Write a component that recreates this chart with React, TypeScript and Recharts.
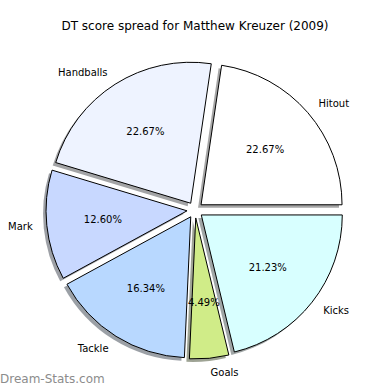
import { PieChart, Pie, Sector } from "recharts";

const categories = ["Hitout", "Handballs", "Mark", "Tackle", "Goals", "Kicks"];
const shares = [22.67, 22.67, 12.6, 16.34, 4.49, 21.23];
const colors = ["#ffffff", "#eef3ff", "#c8d8ff", "#b8d8ff", "#d0ec88", "#d8ffff"];

const data = categories.map((name, i) => ({ name, value: shares[i], fill: colors[i] }));

const RAD = Math.PI / 180;
const EXPLODE = 8;
const FONT = "DejaVu Sans, sans-serif";

const darken = (hex: string) => {
  const n = parseInt(hex.slice(1), 16);
  const r = Math.round(((n >> 16) & 255) * 0.3);
  const g = Math.round(((n >> 8) & 255) * 0.3);
  const b = Math.round((n & 255) * 0.3);
  return `rgb(${r},${g},${b})`;
};

const renderSlice = (props: any) => {
  const { cx, cy, midAngle, outerRadius, startAngle, endAngle, fill } = props;
  const dx = EXPLODE * Math.cos(-midAngle * RAD);
  const dy = EXPLODE * Math.sin(-midAngle * RAD);
  return (
    <g>
      <Sector
        cx={cx + dx - 3}
        cy={cy + dy + 3}
        innerRadius={0}
        outerRadius={outerRadius}
        startAngle={startAngle}
        endAngle={endAngle}
        fill={darken(fill)}
        fillOpacity={0.5}
        stroke="none"
      />
      <Sector
        cx={cx + dx}
        cy={cy + dy}
        innerRadius={0}
        outerRadius={outerRadius}
        startAngle={startAngle}
        endAngle={endAngle}
        fill={fill}
        stroke="#000"
        strokeWidth={1}
      />
    </g>
  );
};

const renderLabel = (props: any) => {
  const { cx, cy, midAngle, outerRadius, name, value } = props;
  const cos = Math.cos(-midAngle * RAD);
  const sin = Math.sin(-midAngle * RAD);
  const ox = cx + EXPLODE * cos;
  const oy = cy + EXPLODE * sin;
  const lx = ox + outerRadius * 1.1 * cos;
  const ly = oy + outerRadius * 1.1 * sin;
  const px = ox + outerRadius * 0.6 * cos;
  const py = oy + outerRadius * 0.6 * sin;
  return (
    <g>
      <text x={lx} y={ly} textAnchor={cos >= 0 ? "start" : "end"} dominantBaseline="central" fontSize={10} fontFamily={FONT} fill="#000">
        {name}
      </text>
      <text x={px} y={py} textAnchor="middle" dominantBaseline="central" fontSize={10} fontFamily={FONT} fill="#000">
        {value.toFixed(2)}%
      </text>
    </g>
  );
};

export default function App() {
  return (
    <div style={{ position: "absolute", left: 0, top: 0, width: 390, height: 390, background: "#fff" }}>
      <div style={{ position: "absolute", top: 19, left: 0, width: 390, textAlign: "center", fontFamily: FONT, fontSize: 12, color: "#000" }}>
        DT score spread for Matthew Kreuzer (2009)
      </div>
      <PieChart width={390} height={390} margin={{ top: 0, right: 0, bottom: 0, left: 0 }}>
        <Pie
          data={data}
          dataKey="value"
          nameKey="name"
          cx={195}
          cy={210}
          outerRadius={141}
          startAngle={0}
          endAngle={360}
          shape={renderSlice}
          label={renderLabel}
          labelLine={false}
          isAnimationActive={false}
        />
      </PieChart>
      <div style={{ position: "absolute", left: 0, top: 372, fontFamily: FONT, fontSize: 12, color: "#8c8c8c" }}>
        Dream-Stats.com
      </div>
    </div>
  );
}
